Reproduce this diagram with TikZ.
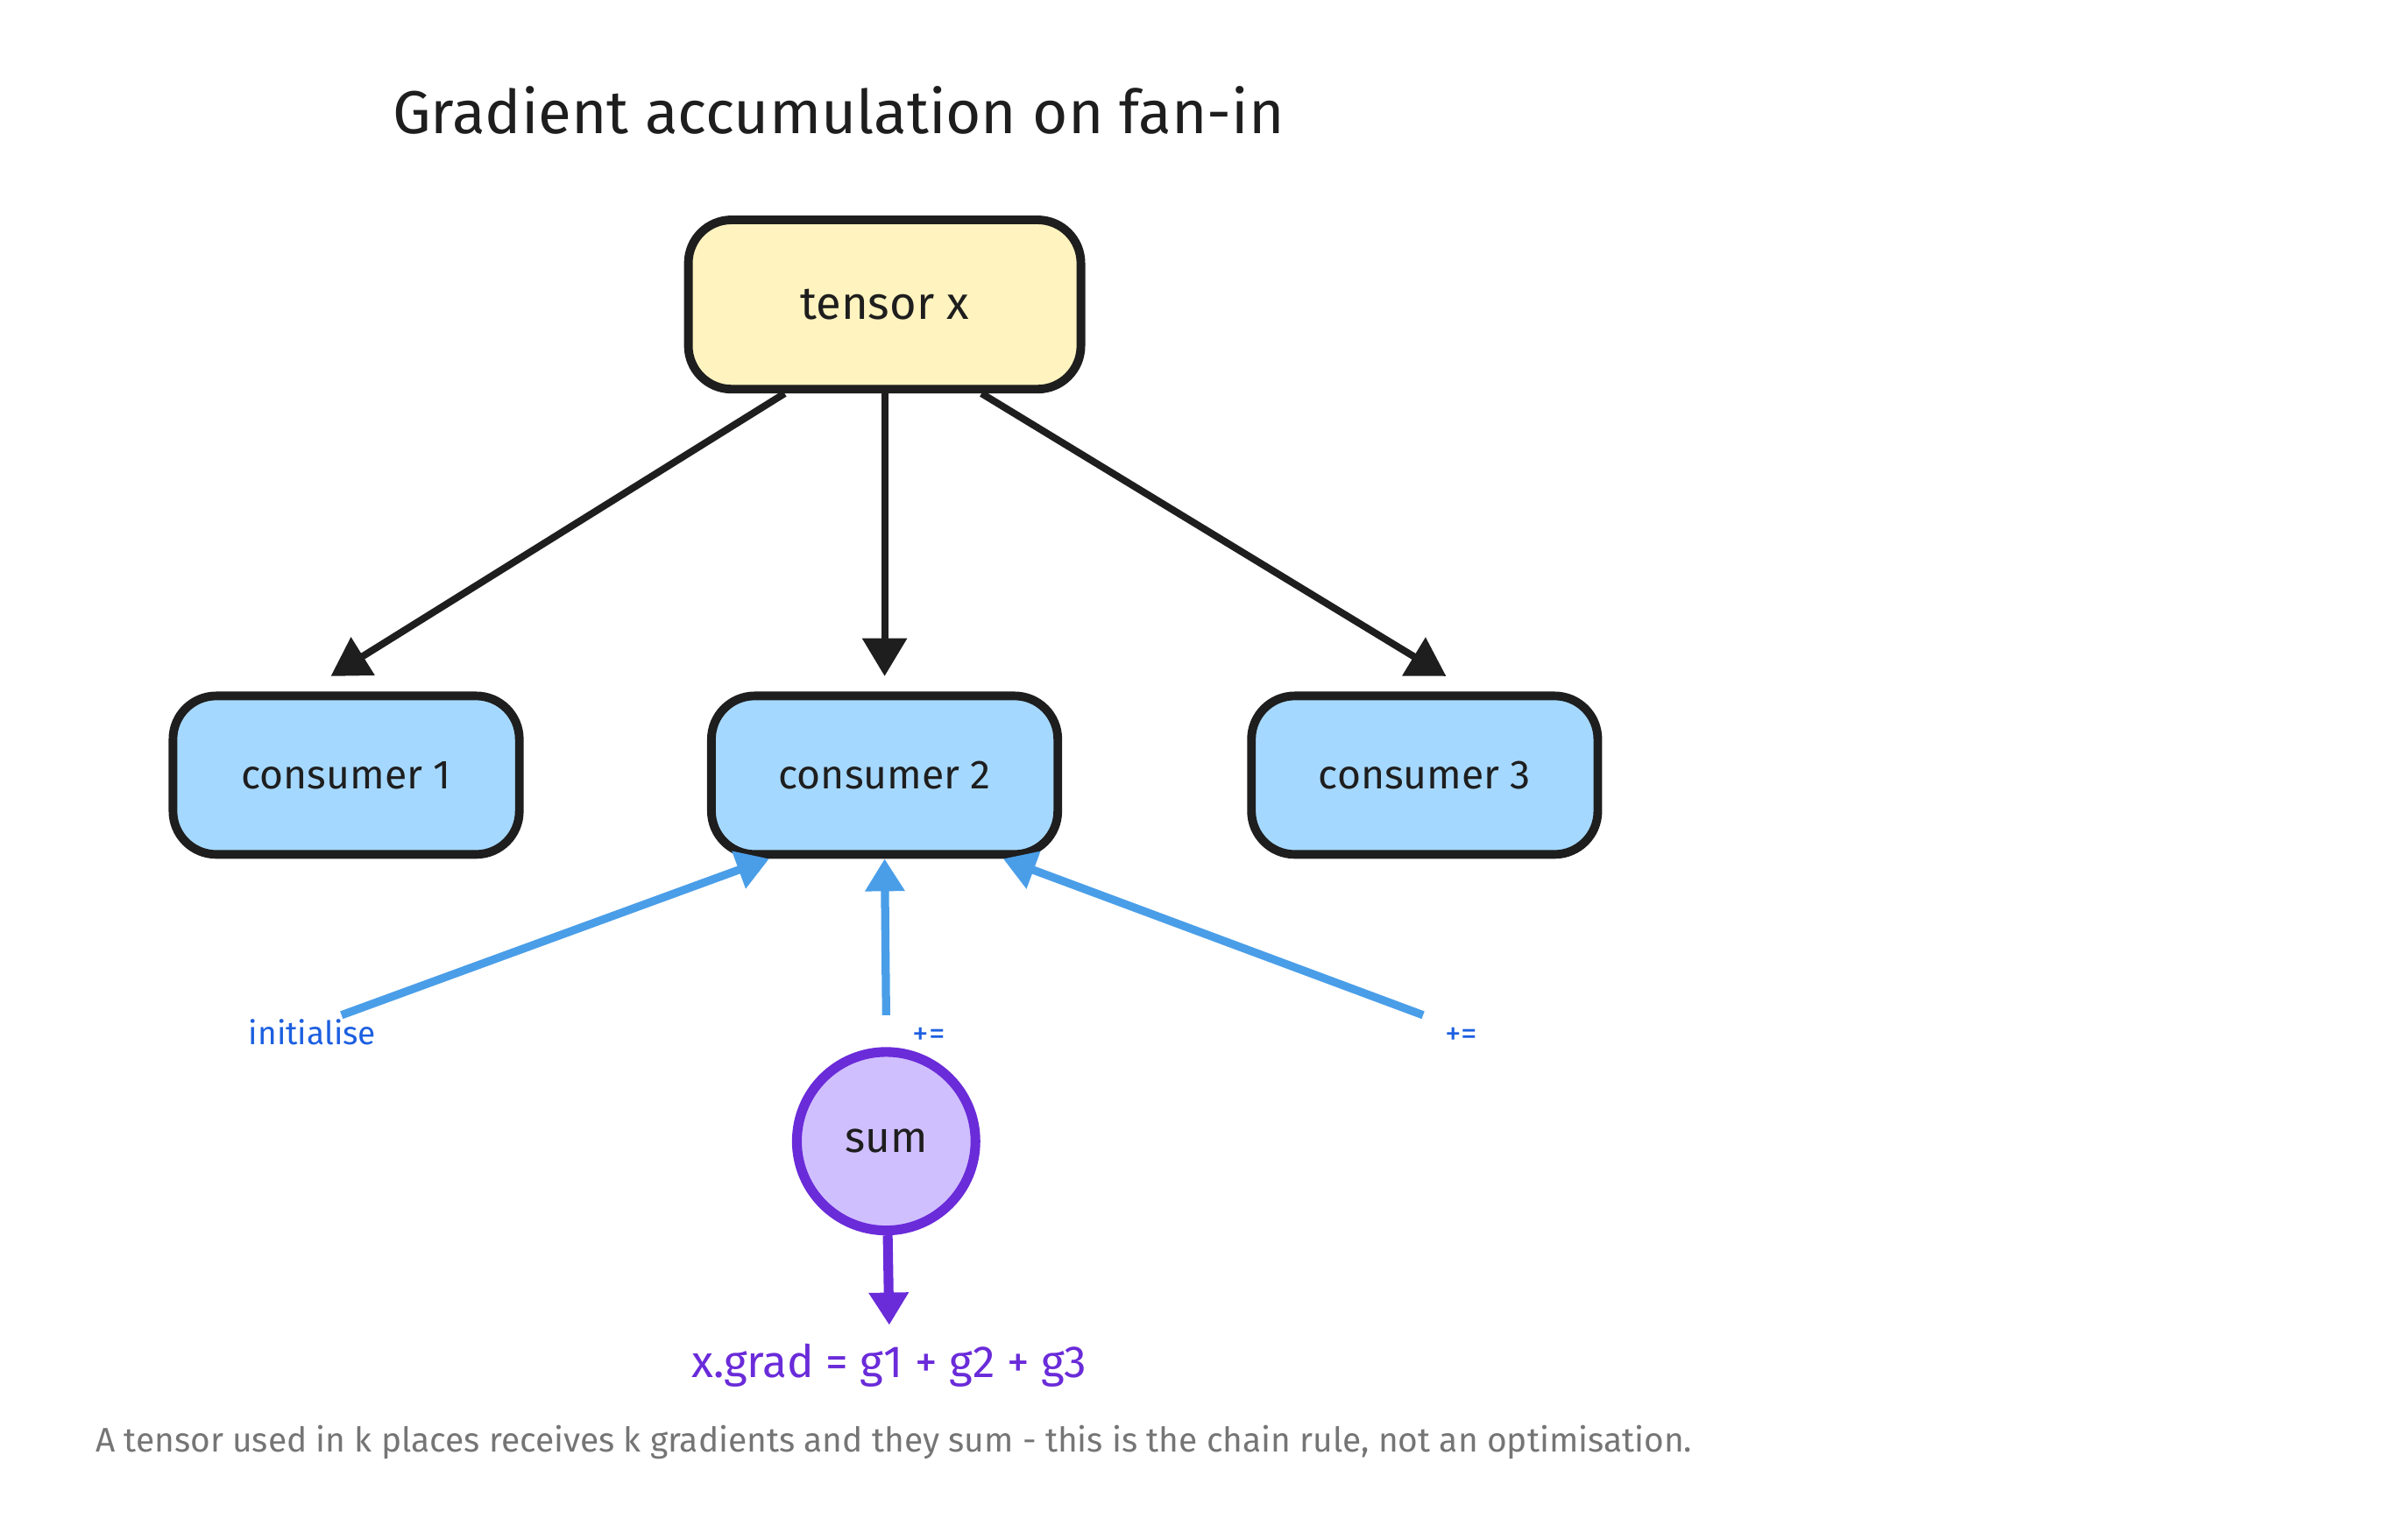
\documentclass[tikz,border=0pt]{standalone}
\usepackage{fontspec}
\setmainfont{Fira Sans}
\usetikzlibrary{positioning,arrows.meta,calc}
\definecolor{boxline}{HTML}{1E1E1E}
\definecolor{tensorfill}{HTML}{FFF3BF}
\definecolor{consfill}{HTML}{A5D8FF}
\definecolor{gradblue}{HTML}{4A9EE8}
\definecolor{labelblue}{HTML}{1C5FE0}
\definecolor{sumfill}{HTML}{D0BFFF}
\definecolor{sumline}{HTML}{6A2BD9}
\definecolor{notegray}{HTML}{757575}
\tikzset{
 box/.style={draw=boxline,line width=1.6pt,rounded corners=8pt,minimum width=2.25cm,minimum height=1.03cm,font=\fontsize{7.5}{9}\selectfont,text=boxline},
 fwd/.style={-{Triangle[length=7pt,width=8pt]},draw=boxline,line width=1.3pt},
 bwd/.style={-{Triangle[length=6pt,width=7pt]},draw=gradblue,line width=1.5pt},
 blab/.style={text=labelblue,font=\fontsize{6}{7}\selectfont}
}
\begin{document}
\begin{tikzpicture}[x=0.01cm,y=-0.01cm]
 \useasboundingbox (0,0) rectangle (1560,1001);
 \node[font=\fontsize{11.2}{13}\selectfont,text=boxline] (title) at (545,72) {Gradient accumulation on fan-in};
 \node[box,fill=tensorfill,minimum width=2.55cm,minimum height=1.1cm,font=\fontsize{8.5}{10}\selectfont] (tensor) at (575,198) {tensor x};
 \node[box,fill=consfill] (c1) at (225,504) {consumer 1};
 \node[box,fill=consfill] (c2) at (575,504) {consumer 2};
 \node[box,fill=consfill] (c3) at (926,504) {consumer 3};
 % forward edges
 \draw[fwd] ($(tensor.south)+(-65,0)$) -- ($(c1.north)+(-10,-10)$);
 \draw[fwd] (tensor.south) -- ($(c2.north)+(0,-10)$);
 \draw[fwd] ($(tensor.south)+(63,0)$) -- ($(c3.north)+(14,-10)$);
 % gradient edges
 \coordinate (g1) at (222,660);
 \coordinate (g2) at (576,660);
 \coordinate (g3) at (925,660);
 \draw[bwd] (g1) -- ($(c2.south)+(-75,0)$);
 \draw[bwd] (g2) -- (c2.south);
 \draw[bwd] (g3) -- ($(c2.south)+(77,0)$);
 \node[blab] (l1) at (203,671) {initialise};
 \node[blab] (l2) at (604,674) {+=};
 \node[blab] (l3) at (950,674) {+=};
 \node[circle,draw=sumline,fill=sumfill,line width=1.8pt,minimum size=1.16cm,font=\fontsize{8}{9}\selectfont,text=boxline] (sum) at (576,742) {sum};
 \node[text=sumline,font=\fontsize{8.3}{9}\selectfont] (grad) at (578,888) {x.grad = g1 + g2 + g3};
 \draw[-{Triangle[length=6pt,width=7pt]},draw=sumline,fill=sumline,line width=1.8pt] (sum) -- (grad.north);
 \node[text=notegray,font=\fontsize{6.3}{7}\selectfont] (note) at (581,938) {A tensor used in k places receives k gradients and they sum - this is the chain rule, not an optimisation.};
\end{tikzpicture}
\end{document}
